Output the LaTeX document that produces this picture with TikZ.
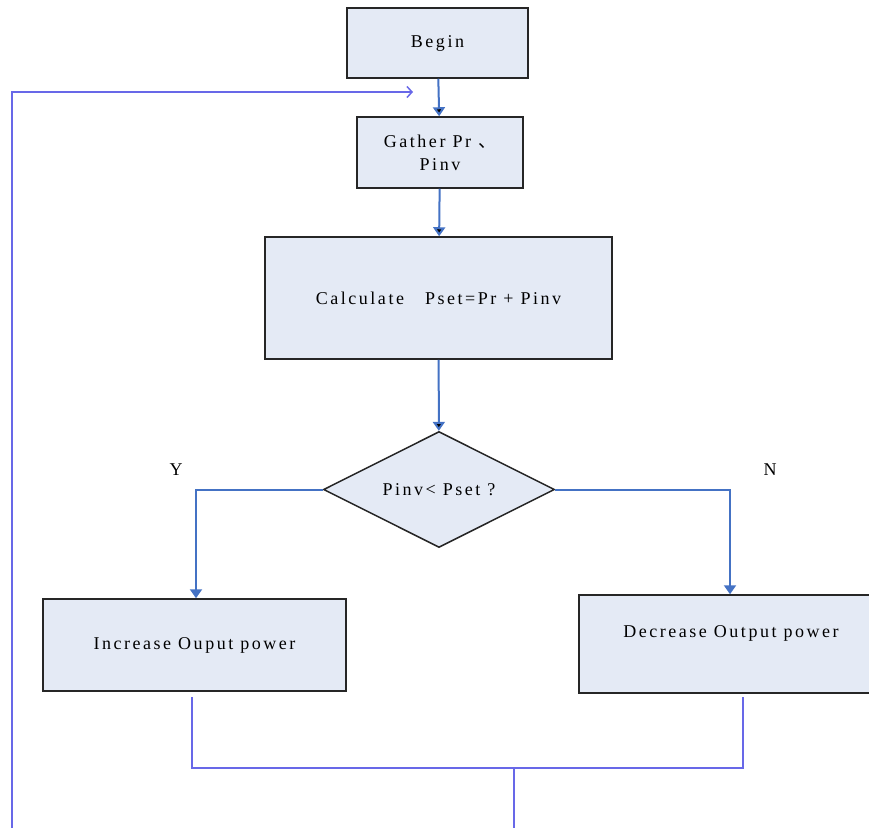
\documentclass[tikz,border=0pt]{standalone}
\usepackage{fontspec}
\setmainfont{Liberation Serif}[LetterSpace=14]
\newfontfamily\cjk{Noto Sans CJK SC}
\usetikzlibrary{arrows.meta,shapes.geometric}

\definecolor{flowblue}{RGB}{68,114,196}
\definecolor{loopblue}{RGB}{104,104,232}
\definecolor{boxfill}{RGB}{228,234,245}

\begin{document}
\begin{tikzpicture}[x=1pt,y=-1pt,line width=1.5pt,
    every node/.style={font=\fontsize{18pt}{23pt}\selectfont}]
  \tikzset{block/.style={draw=black!85,fill=boxfill,align=center,inner sep=0pt},
           decision/.style={diamond,aspect=2,draw=black!85,fill=boxfill,inner sep=0pt,
                            minimum width=231pt,minimum height=116pt},
           flow/.style={-{Triangle[width=12pt,length=9pt]},draw=flowblue,line width=2pt},
           back/.style={draw=loopblue}}
  \useasboundingbox (0,0) rectangle (869,827);
  \node[block,minimum width=181pt,minimum height=70pt]  (begin)  at (437.5,43)  {Begin};
  \node[block,minimum width=166pt,minimum height=71pt]  (gather) at (440,152.5) {Gather Pr \cjk{、}\\Pinv};
  \node[block,minimum width=347pt,minimum height=122pt] (calc)   at (438.5,298) {Calculate \ \ Pset=Pr + Pinv};
  \node[decision]                                       (test)   at (439,489.5) {Pinv< Pset ?};
  \node[block,minimum width=303pt,minimum height=92pt]  (inc)    at (194.5,645) {Increase Ouput power};
  \node[block,minimum width=304pt,minimum height=98pt,
        text height=13pt,text depth=27pt]               (decr)   at (731,644)   {Decrease Output power};
  \node (yes) at (176,470) {Y};
  \node (no)  at (770,470) {N};
  \coordinate (join)  at (514,768);
  \coordinate (out)   at (514,830);
  \coordinate (start) at (12,830);
  \coordinate (entry) at (413,92);
  \path[flow] (begin) edge (gather)
              (gather) edge (calc)
              (calc) edge (test);
  \draw[flow] (test.west) -| ([xshift=1.5pt]inc.north);
  \draw[flow] (test.east) -| ([xshift=-1pt]decr.north);
  \draw[back] ([xshift=-2.5pt,yshift=-5pt]inc.south) |- (join)
              -| ([xshift=12pt,yshift=-3pt]decr.south);
  \draw[back] (join) -- (out);
  \draw[back,-{Straight Barb[length=5pt,width=11pt]}] (start) |- (entry);
\end{tikzpicture}
\end{document}
